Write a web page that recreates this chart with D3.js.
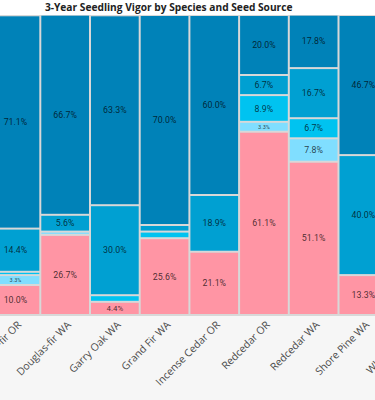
<!DOCTYPE html>
<html>
<head>
<meta charset="utf-8">
<script src="https://cdn.jsdelivr.net/npm/d3@7"></script>
<style>
  body { margin: 0; background: #f6f6f6; }
  svg { display: block; }
</style>
</head>
<body>
<svg id="mosaic_svg" width="375" height="400"></svg>
<script>
var chartTitle = '3-Year Seedling Vigor by Species and Seed Source';
var species = ['Douglas-fir OR','Douglas-fir WA','Garry Oak WA','Grand Fir WA','Incense Cedar OR',
               'Redcedar OR','Redcedar WA','Shore Pine WA'];
// next column is cut off on the right, only its label shows
var tickLabels = species.concat(['White Oak WA']);
// vigor classes, bottom to top
var vigor = ['0','1','2','3','4'];
var vigorColors = ['#ff95a4','#80deff','#00c3f0','#00a0d2','#0082b8'];

// percent of seedlings per class, one array per class, in species order
var vigor0 = [10.0, 26.7, 4.4, 25.6, 21.1, 61.1, 51.1, 13.3];
var vigor1 = [ 3.3,  1.1, 0.0,  0.0,  0.0,  3.3,  7.8,  0.0];
var vigor2 = [ 1.1,  0.0, 2.2,  2.2,  0.0,  8.9,  6.7,  0.0];
var vigor3 = [14.4,  5.6, 30.0, 2.2, 18.9,  6.7, 16.7, 40.0];
var vigor4 = [71.1, 66.7, 63.3, 70.0, 60.0, 20.0, 17.8, 46.7];

var svg = d3.select('#mosaic_svg');
var plotTop = 15, plotBottom = 315;
var colStep = 49.7, firstCol = -9.4;

var xScale = d3.scaleBand()
    .domain(tickLabels)
    .range([firstCol, firstCol + tickLabels.length*colStep])
    .paddingInner(0)
    .paddingOuter(0);

var yScale = d3.scaleLinear()
    .domain([0,100])
    .range([plotBottom, plotTop]);

var colorScale = d3.scaleOrdinal().domain(vigor).range(vigorColors);

// build the stacked table
var table = species.map(function(s,i){
    return {species: s, '0': vigor0[i], '1': vigor1[i], '2': vigor2[i], '3': vigor3[i], '4': vigor4[i]};
});
var stacked = d3.stack().keys(vigor)(table);

// title strip
svg.append('rect')
    .attr('x',0).attr('y',0)
    .attr('width',375).attr('height',plotTop)
    .attr('fill','#ffffff');

// frame / gap colour behind cells
svg.append('rect')
    .attr('x',0)
    .attr('y',plotTop)
    .attr('width',375)
    .attr('height',plotBottom - plotTop + 1)
    .attr('fill','#d8d8d8');

var cells = [];
stacked.forEach(function(layer){
    layer.forEach(function(d){
        cells.push({key: layer.key, species: d.data.species, y0: d[0], y1: d[1], value: d.data[layer.key]});
    });
});
cells = cells.filter(d => d.value > 0);

svg.selectAll('.cell')
    .data(cells)
    .join('rect')
    .attr('class','cell')
    .attr('x', d => xScale(d.species) + 1)
    .attr('width', xScale.bandwidth() - 2)
    .attr('y', d => yScale(d.y1) + 1)
    .attr('height', d => Math.max(0.8, yScale(d.y0) - yScale(d.y1) - 2))
    .attr('fill', d => colorScale(d.key));

svg.selectAll('.cellLabel')
    .data(cells.filter(d => (yScale(d.y0) - yScale(d.y1)) >= 8))
    .join('text')
    .attr('class','cellLabel')
    .attr('x', d => xScale(d.species) + xScale.bandwidth()/2)
    .attr('y', d => (yScale(d.y0) + yScale(d.y1))/2)
    .attr('dy','0.35em')
    .attr('text-anchor','middle')
    .style('font-family','Roboto, "Liberation Sans", sans-serif')
    .style('font-size', function(d){
        var h = yScale(d.y0) - yScale(d.y1) - 2;
        return Math.min(8.8, h*0.7) + 'px';
    })
    .attr('fill','#000')
    .attr('fill-opacity',0.72)
    .text(d => d.value.toFixed(1) + '%');

// x axis labels
svg.selectAll('.xLabel')
    .data(tickLabels)
    .join('text')
    .attr('class','xLabel')
    .attr('transform', d => 'translate(' + (xScale(d) + xScale.bandwidth()/2 + 4) + ',' + (plotBottom + 8) + ') rotate(-45)')
    .attr('text-anchor','end')
    .attr('dy','0.35em')
    .style('font-family','"Open Sans", Roboto, sans-serif')
    .style('font-size','10.4px')
    .attr('fill','#4a4a4a')
    .text(d => d);

svg.append('text')
    .attr('x',168.7)
    .attr('y',11)
    .attr('text-anchor','middle')
    .style('font-family','"Open Sans", Roboto, sans-serif')
    .style('font-weight','bold')
    .style('font-size','10.2px')
    .attr('fill','#222')
    .text(chartTitle);
</script>
</body>
</html>
